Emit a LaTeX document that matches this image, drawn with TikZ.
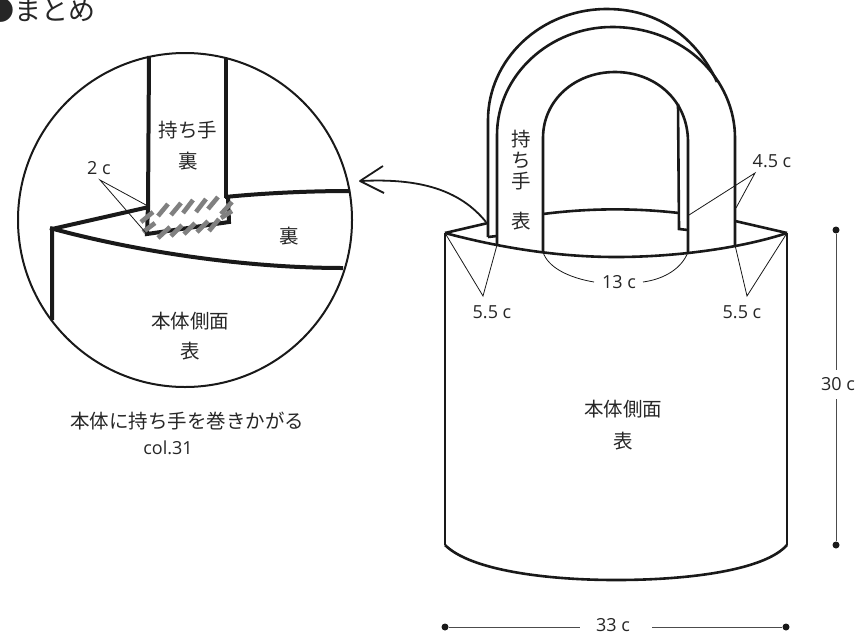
\documentclass[tikz,border=0pt]{standalone}
\usepackage{fontspec}
\setmainfont{Open Sans}
\newfontfamily\jp{Noto Sans CJK JP}
\tikzset{
  thick line/.style={line width=2.6pt,black!90},
  bold line/.style={line width=4pt,black!90,line cap=butt},
  thin line/.style={line width=0.8pt,black!90},
  dim line/.style={line width=1pt,black!70},
  ring/.style={line width=2pt,black!90},
  stitch/.style={line width=4.6pt,black!50},
  lbl/.style={inner sep=0pt,font=\fontsize{19.5}{22}\selectfont\jp,black!85},
  num/.style={inner sep=0pt,font=\fontsize{18}{20}\selectfont,black!85},
  dimdot/.style={circle,fill=black!90,inner sep=0pt,minimum size=7pt},
}
\begin{document}
\begin{tikzpicture}[x=1pt,y=-1pt]
\useasboundingbox (0,0) rectangle (866,635);
\clip (0,0) rectangle (866,635);
\node[lbl,anchor=west,font=\fontsize{27}{30}\selectfont\jp] (title) at (-13,10) {●まとめ};
% bag
\coordinate (bl) at (445,233); \coordinate (br) at (787,233);
\draw[thick line] (445,545) -- (bl) (787,545) -- (br);
\draw[thick line] (445,545) .. controls (470,570) and (545,580) .. (616,580) .. controls (690,580) and (765,570) .. (787,545);
\draw[thick line] (bl) .. controls (490,245) and (550,257) .. (616,257) .. controls (680,257) and (745,247) .. (br);
\draw[thick line] (bl) -- (488,223);
\draw[thick line] (735,221) -- (br);
\draw[thick line] (543,214) .. controls (590,208) and (635,208) .. (679,213);
% handles
\draw[thick line] (488,237) -- (488,120) .. controls (488,60) and (540,9) .. (607,9) .. controls (665,9) and (700,45) .. (717,82);
\draw[thick line] (488,237) -- (497,236);
\draw[thick line] (497,245) -- (497,135) .. controls (497,75) and (550,27) .. (612,27) .. controls (685,27) and (735,80) .. (735,138) -- (735,245);
\draw[thick line] (543,252) -- (543,138) .. controls (543,100) and (575,72) .. (615,72) .. controls (655,72) and (688,100) .. (688,142) -- (688,252);
\draw[thick line] (678,104) -- (679,229) -- (688,230);
% thin
\draw[thin line] (445,233) -- (483,296) -- (497,245);
\draw[thin line] (735,245) -- (747,296) -- (787,233);
\draw[thin line] (689,215) -- (755,173) -- (736,208);
\node[num] (d13) at (619,282) {13 c};
\draw[thin line] (543,252) .. controls (548,268) and (570,278) .. (594,282);
\draw[thin line] (643,282) .. controls (665,279) and (682,268) .. (688,252);
\node[num] (d45) at (772,161) {4.5 c};
\node[num] (d55a) at (492,312) {5.5 c};
\node[num] (d55b) at (742,312) {5.5 c};
\node[lbl] (h1) at (521,139) {持};
\node[lbl] (h2) at (521,160) {ち};
\node[lbl] (h3) at (521,181) {手};
\node[lbl] (h4) at (521,221) {表};
\node[lbl] (b1) at (623,409) {本体側面};
\node[lbl] (b2) at (623,441) {表};
% dims
\node[dimdot] (v1) at (836,230) {};
\node[dimdot] (v2) at (836,545) {};
\node[num] (d30) at (838,384) {30 c};
\coordinate (v1e) at (836,370); \coordinate (v2e) at (836,399);
\draw[dim line] (v1) -- (v1e);
\draw[dim line] (v2) -- (v2e);
\node[dimdot] (h1e) at (445,627) {};
\node[dimdot] (h2e) at (786,627) {};
\node[num] (d33) at (613,625) {33 c};
\coordinate (h1f) at (580,627); \coordinate (h2f) at (652,627);
\draw[dim line] (h1e) -- (h1f);
\draw[dim line] (h2f) -- (h2e);
% arrow
\draw[line width=1.8pt,black!90] (486,222) .. controls (460,190) and (420,178) .. (361,181);
\draw[line width=1.8pt,black!90,line join=round] (383,166) -- (360,181) -- (384,193);
% inset
\draw[bold line] (149,56) -- (148,210);
\draw[bold line] (149,207) -- (52,229) -- (52,320);
\draw[bold line] (50,228) .. controls (130,250) and (240,268) .. (343,268);
\draw[bold line] (148,205) -- (147,234) -- (229,222) -- (228,197);
\draw[bold line] (226,58) -- (226,198);
\draw[bold line] (225,197) .. controls (265,193) and (310,191) .. (350,191);
\draw[ring] (185,220) circle (167);
\foreach \xa/\ya/\xb/\yb in {158/216/168/204,171/215/181/203,183/213/193/200,196/212/206/199,208/209/218/197,
  158/238/170/227,171/236/182/225,184/234/195/223,197/232/208/221,209/231/219/219,
  141/222/153/212,143/232/155/223,221/214/232/202,221/218/232/211}
  \draw[stitch] (\xa,\ya) -- (\xb,\yb);
\draw[thin line] (146,205) -- (100,180) -- (146,233);
\node[num] (d2) at (99,168) {2 c};
\node[lbl] (s1) at (188,130) {持ち手};
\node[lbl] (s2) at (188,161) {裏};
\node[lbl] (s3) at (289,236) {裏};
\node[lbl] (s4) at (190,321) {本体側面};
\node[lbl] (s5) at (190,351) {表};
\node[lbl] (c1) at (187,421) {本体に持ち手を巻きかがる};
\node[num] (c2) at (168,448) {col.31};
\end{tikzpicture}
\end{document}
